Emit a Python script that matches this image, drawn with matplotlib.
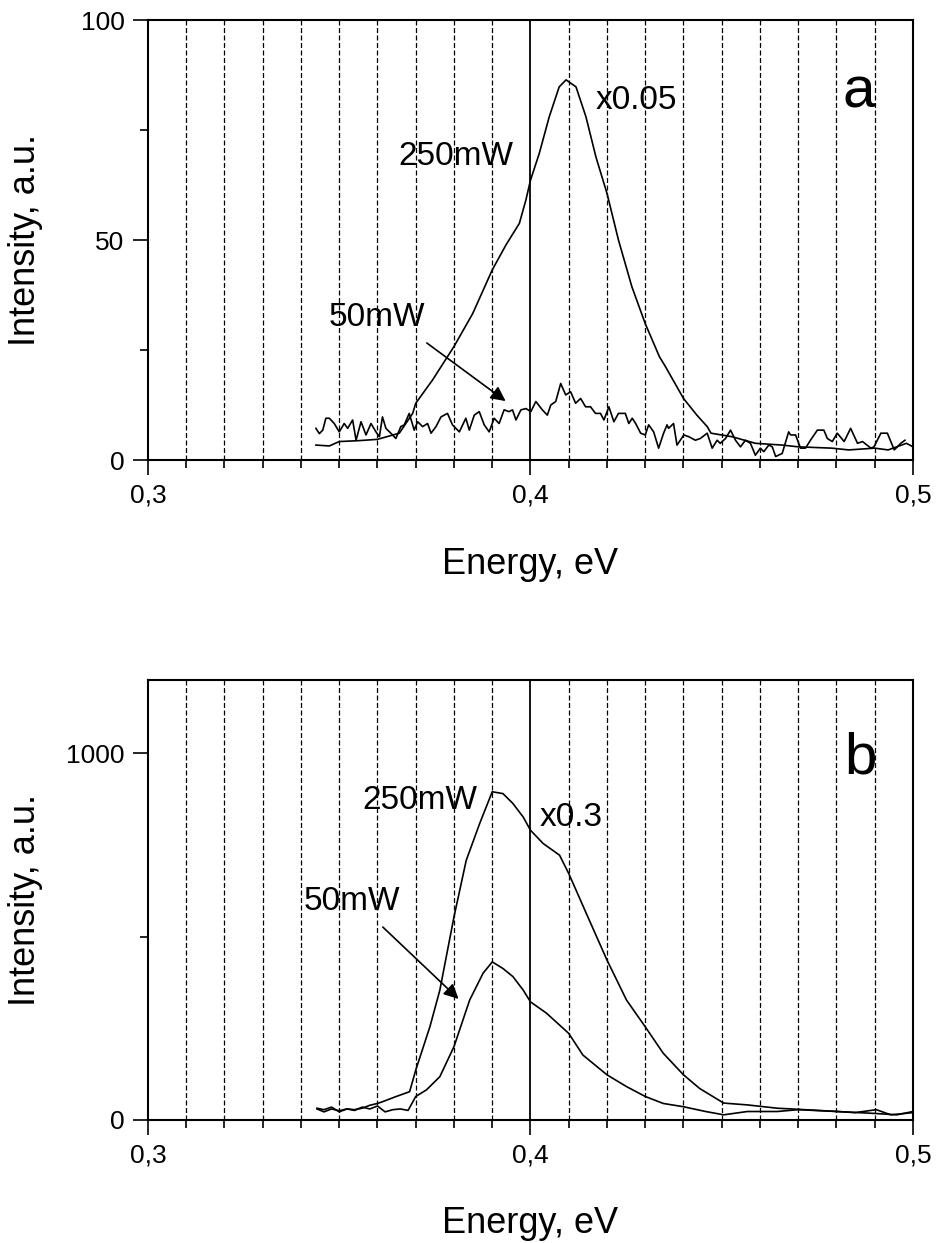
import matplotlib
matplotlib.use("Agg")
import matplotlib.pyplot as plt
import matplotlib.ticker as mticker
import numpy as np

plt.rcParams['font.family'] = ['Liberation Sans', 'DejaVu Sans']

# ---- panel a : top ----
a_hi_x = [0.3439, 0.3474, 0.350, 0.355, 0.360, 0.3657, 0.3692, 0.370, 0.3744, 0.380,
          0.3849, 0.390, 0.3936, 0.3971, 0.3988, 0.400, 0.4023, 0.4049, 0.4075, 0.4093,
          0.4119, 0.4145, 0.4171, 0.420, 0.423, 0.4265, 0.430, 0.4337, 0.4353, 0.440,
          0.4435, 0.4462, 0.4472, 0.4527, 0.4588, 0.4658, 0.470, 0.4788, 0.4832, 0.490,
          0.4935, 0.4983, 0.500]
a_hi_y = [3.4, 3.2, 4.2, 4.4, 4.7, 6.1, 10.6, 12.9, 18.2, 25.8,
          33.3, 43.2, 48.9, 53.8, 59.1, 63.6, 69.7, 78.0, 84.8, 86.4,
          84.8, 78.0, 68.9, 60.6, 50.0, 39.4, 31.0, 23.5, 21.2, 14.0,
          10.2, 7.6, 6.1, 5.3, 3.8, 3.4, 3.0, 2.7, 2.3, 2.7,
          2.3, 3.8, 3.0]

a_lo_x = [0.3439, 0.3448, 0.3457, 0.3465, 0.3474, 0.3487, 0.350, 0.3513, 0.3522, 0.3535,
          0.3544, 0.3557, 0.3570, 0.3583, 0.3596, 0.3605, 0.3613, 0.3622, 0.3635, 0.3648,
          0.3661, 0.3670, 0.3683, 0.3696, 0.3705, 0.3718, 0.3731, 0.3740, 0.3753, 0.3766,
          0.3783, 0.3796, 0.3814, 0.3831, 0.3840, 0.3853, 0.3866, 0.3879, 0.3892, 0.3905,
          0.3918, 0.3931, 0.3944, 0.3953, 0.3962, 0.3975, 0.3988, 0.4001, 0.4014, 0.4031,
          0.4044, 0.4053, 0.4066, 0.4079, 0.4092, 0.4105, 0.4118, 0.4131, 0.4144, 0.4157,
          0.4170, 0.4183, 0.4192, 0.4205, 0.4218, 0.4230, 0.4248, 0.4257, 0.4266, 0.4275,
          0.4288, 0.4300, 0.4309, 0.4322, 0.4335, 0.4348, 0.4357, 0.4361, 0.4374, 0.4383,
          0.4401, 0.4414, 0.4431, 0.4444, 0.4462, 0.4475, 0.4488, 0.4496, 0.4510, 0.4523,
          0.4536, 0.4549, 0.4562, 0.4575, 0.4588, 0.4601, 0.4610, 0.4623, 0.4632, 0.4641,
          0.4658, 0.4675, 0.4680, 0.4693, 0.4706, 0.4719, 0.4732, 0.4750, 0.4767, 0.4776,
          0.4789, 0.4802, 0.4820, 0.4837, 0.4855, 0.4868, 0.4890, 0.4898, 0.4916, 0.4933,
          0.4951, 0.4968, 0.4979]
a_lo_y = [7.2, 6.0, 6.8, 9.5, 9.5, 8.3, 6.4, 8.3, 7.2, 9.1,
          4.5, 8.7, 5.7, 8.3, 6.4, 5.3, 9.8, 7.2, 6.1, 4.9,
          7.6, 8.0, 10.6, 6.8, 8.7, 7.6, 8.3, 6.1, 7.6, 9.8,
          10.6, 8.0, 6.4, 9.5, 6.8, 10.2, 11.0, 8.0, 6.4, 9.5,
          8.3, 11.4, 11.0, 11.4, 9.1, 11.4, 11.7, 11.0, 13.3, 11.4,
          10.2, 12.5, 13.3, 17.4, 14.8, 15.5, 12.9, 14.0, 12.1, 12.1,
          10.6, 10.6, 9.1, 12.1, 8.7, 10.6, 10.6, 8.3, 9.5, 8.3,
          6.1, 5.7, 8.0, 6.4, 2.7, 6.1, 8.0, 7.2, 8.3, 3.4,
          5.7, 5.3, 4.5, 4.9, 6.1, 2.7, 4.5, 3.8, 4.9, 6.8,
          4.5, 3.0, 4.5, 3.8, 1.1, 2.7, 1.9, 3.4, 3.0, 0.8,
          1.5, 6.4, 5.7, 5.7, 2.7, 2.7, 4.5, 6.8, 6.8, 4.9,
          4.2, 6.1, 4.2, 7.2, 3.8, 4.2, 2.7, 3.0, 6.1, 6.1,
          2.3, 3.8, 4.5]

# ---- panel b : bottom ----
b_hi_x = [0.3442, 0.346, 0.348, 0.350, 0.352, 0.354, 0.356, 0.358, 0.360, 0.3614,
          0.3649, 0.3684, 0.370, 0.3737, 0.3763, 0.380, 0.3832, 0.3867, 0.390, 0.3928,
          0.3954, 0.3981, 0.400, 0.4033, 0.4076, 0.410, 0.4146, 0.420, 0.4251, 0.430,
          0.4347, 0.440, 0.4442, 0.4505, 0.4567, 0.4645, 0.470, 0.4802, 0.4895, 0.4958,
          0.500]
b_hi_y = [30, 22, 30, 25, 30, 28, 32, 40, 45, 50,
          64, 77, 136, 254, 354, 554, 708, 808, 895, 890,
          863, 826, 790, 754, 722, 672, 563, 436, 327, 254,
          182, 123, 86, 46, 41, 32, 29, 23, 18, 14,
          23]

b_lo_x = [0.3442, 0.346, 0.348, 0.350, 0.352, 0.354, 0.356, 0.358, 0.360, 0.362,
          0.364, 0.366, 0.368, 0.370, 0.3728, 0.3763, 0.380, 0.3841, 0.3876, 0.390,
          0.3928, 0.3954, 0.3981, 0.400, 0.4042, 0.410, 0.4137, 0.420, 0.4251, 0.430,
          0.4347, 0.440, 0.4458, 0.4505, 0.4567, 0.4645, 0.470, 0.4802, 0.4849, 0.4904,
          0.4942, 0.500]
b_lo_y = [32, 28, 35, 22, 30, 26, 35, 30, 38, 22,
          28, 30, 26, 64, 82, 118, 200, 327, 400, 431,
          413, 391, 354, 322, 291, 236, 177, 123, 91, 64,
          45, 36, 23, 14, 23, 23, 28, 23, 20, 28,
          14, 20]


def comma_fmt(v, pos):
    return ('%.1f' % v).replace('.', ',')


def style_axes(ax, ymax, ymajor, yminor):
    ax.set_xlim(0.3, 0.5)
    ax.set_ylim(0, ymax)
    ax.xaxis.set_major_locator(mticker.MultipleLocator(0.1))
    ax.xaxis.set_minor_locator(mticker.MultipleLocator(0.01))
    ax.xaxis.set_major_formatter(mticker.FuncFormatter(comma_fmt))
    ax.yaxis.set_major_locator(mticker.MultipleLocator(ymajor))
    ax.yaxis.set_minor_locator(mticker.MultipleLocator(yminor))
    ax.tick_params(which='major', direction='out', length=11, width=1.2,
                   labelsize=19, pad=6, top=False, right=False)
    ax.tick_params(which='minor', direction='out', length=6, width=1.2,
                   top=False, right=False)
    ax.grid(which='minor', axis='x', color='black', linestyle=(0, (4, 2)), linewidth=0.9)
    ax.grid(which='major', axis='x', color='black', linestyle='-', linewidth=1.3)
    for s in ax.spines.values():
        s.set_linewidth(1.5)
    ax.set_xlabel('Energy, eV', fontsize=26, labelpad=28)
    ax.set_ylabel('Intensity, a.u.', fontsize=26)
    # same label column in both panels
    ax.yaxis.set_label_coords(-0.137, 0.5)


fig = plt.figure(figsize=(9.39, 12.43), dpi=100)
ax1 = fig.add_axes([0.1576, 0.6299, 0.8147, 0.354])
ax2 = fig.add_axes([0.1576, 0.0990, 0.8147, 0.354])

ax1.plot(a_hi_x, a_hi_y, color='black', lw=1.2)
ax1.plot(a_lo_x, a_lo_y, color='black', lw=1.2)
style_axes(ax1, 100, 50, 25)
ax1.text(0.3655, 69, '250mW', fontsize=24, va='center', ha='left')
ax1.text(0.4169, 81.8, 'x0.05', fontsize=24, va='center', ha='left')
ax1.text(0.3473, 32.3, '50mW', fontsize=24, va='center', ha='left')
ax1.annotate('', xy=(0.3935, 13.4), xytext=(0.3729, 26.6),
             arrowprops=dict(arrowstyle='-|>', color='black', lw=1.2,
                             mutation_scale=22, shrinkA=0, shrinkB=0))
ax1.text(0.4817, 80.2, 'a', fontsize=42, va='baseline', ha='left')

ax2.plot(b_hi_x, b_hi_y, color='black', lw=1.2)
ax2.plot(b_lo_x, b_lo_y, color='black', lw=1.2)
style_axes(ax2, 1200, 1000, 500)
ax2.text(0.356, 872, '250mW', fontsize=24, va='center', ha='left')
ax2.text(0.4025, 826, 'x0.3', fontsize=24, va='center', ha='left')
ax2.text(0.3408, 597, '50mW', fontsize=24, va='center', ha='left')
ax2.annotate('', xy=(0.3812, 330), xytext=(0.3614, 526),
             arrowprops=dict(arrowstyle='-|>', color='black', lw=1.2,
                             mutation_scale=22, shrinkA=0, shrinkB=0))
ax2.text(0.482, 945, 'b', fontsize=42, va='baseline', ha='left')

fig.savefig('out.png', dpi=100)
